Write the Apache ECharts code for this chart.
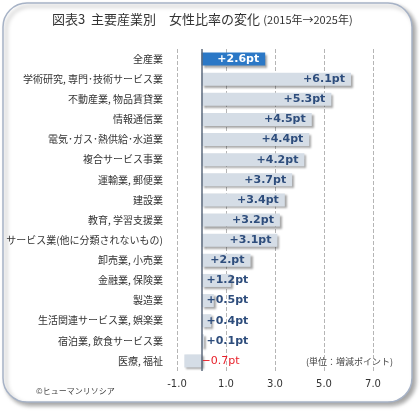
<!DOCTYPE html>
<html><head><meta charset="utf-8">
<script src="https://cdn.jsdelivr.net/npm/echarts@6/dist/echarts.min.js"></script>
<style>html,body{margin:0;padding:0;background:#fff}#c{width:420px;height:411px}</style>
</head><body><div id="c"></div>
<script>
const categories = ['全産業','学術研究, 専門･技術サービス業','不動産業, 物品賃貸業','情報通信業','電気･ガス･熱供給･水道業','複合サービス事業','運輸業, 郵便業','建設業','教育, 学習支援業','サービス業(他に分類されないもの)','卸売業, 小売業','金融業, 保険業','製造業','生活関連サービス業, 娯楽業','宿泊業, 飲食サービス業','医療, 福祉'];
const values = [2.6, 6.1, 5.3, 4.5, 4.4, 4.2, 3.7, 3.4, 3.2, 3.1, 2.0, 1.2, 0.5, 0.4, 0.1, -0.7];
const valueLabels = ['+2.6pt','+6.1pt','+5.3pt','+4.5pt','+4.4pt','+4.2pt','+3.7pt','+3.4pt','+3.2pt','+3.1pt','+2.pt','+1.2pt','+0.5pt','+0.4pt','+0.1pt','−0.7pt'];
const xTicks = [-1, 1, 3, 5, 7];

const chart = echarts.init(document.getElementById('c'));
const data = values.map((v, i) => {
  const d = { value: v, itemStyle: {}, label: { formatter: valueLabels[i] } };
  if (i === 0) { d.itemStyle.color = '#2b78c6'; d.label.color = '#ffffff'; }
  if (v < 0) { d.label.position = 'right'; d.label.distance = 0; d.label.color = '#e8202a'; d.label.fontWeight = 'normal'; }
  else if (v < 2) { d.label.position = 'insideLeft'; d.label.distance = 5; }
  return d;
});
chart.setOption({
  animation: false,
  graphic: [
    { type: 'rect', z: -100, shape: { x: 3, y: 3, width: 409, height: 399, r: 24 },
      style: { fill: '#fff', stroke: '#a6b2c6', lineWidth: 1.5, shadowBlur: 4, shadowOffsetX: 3, shadowOffsetY: 3, shadowColor: 'rgba(0,0,0,0.35)' } },
    { type: 'text', left: 52, top: 13, z: 10,
      style: { text: '{a|図表3  主要産業別　女性比率の変化} {b|(2015年→2025年)}',
        rich: { a: { fontSize: 13, fontFamily: 'Noto Sans CJK JP', fill: '#333' },
                b: { fontSize: 11, fontFamily: 'Noto Sans CJK JP', fill: '#333' } } } },
    { type: 'text', left: 306, top: 357, z: 10,
      style: { text: '(単位：増減ポイント)', fontSize: 9, fontFamily: 'Noto Sans CJK JP', fill: '#444' } },
    { type: 'text', left: 36, top: 387, z: 10,
      style: { text: '©ヒューマンリソシア', fontSize: 8, fontFamily: 'Noto Sans CJK JP', fill: '#444' } }
  ],
  grid: { left: 177, right: 47, top: 49, bottom: 40, containLabel: false },
  xAxis: {
    type: 'value', min: -1, max: 7, interval: 2,
    axisLine: { show: false }, axisTick: { show: false },
    splitLine: { show: true, lineStyle: { type: 'dashed', color: '#b5b5b5', width: 1 } },
    axisLabel: { color: '#333', fontSize: 10, fontFamily: 'DejaVu Sans', margin: 8,
      formatter: v => xTicks.includes(v) ? v.toFixed(1) : '' }
  },
  yAxis: {
    type: 'category', data: categories, inverse: true,
    axisLine: { show: false }, axisTick: { show: false },
    axisLabel: { color: '#333', fontSize: 10, fontFamily: 'Noto Sans CJK JP', margin: 14 }
  },
  series: [{
    type: 'bar', data: data, barWidth: 13,
    itemStyle: { color: '#d5dde6', shadowColor: 'rgba(0,0,0,0.35)', shadowBlur: 2, shadowOffsetX: 2, shadowOffsetY: 2 },
    label: { show: true, position: 'insideRight', distance: 6, color: '#2e4d7c', fontWeight: 'bold', fontSize: 11, fontFamily: 'DejaVu Sans' },
    markLine: { silent: true, symbol: 'none', label: { show: false },
      lineStyle: { type: 'solid', color: '#5c6a7c', width: 1.5 }, data: [{ xAxis: 0 }] }
  }]
});
</script></body></html>
